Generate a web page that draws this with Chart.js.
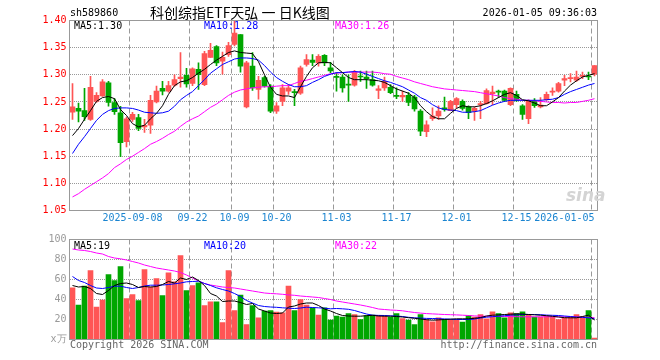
<!DOCTYPE html>
<html>
<head>
<meta charset="utf-8">
<script src="https://cdn.jsdelivr.net/npm/chart.js@4.4.1/dist/chart.umd.min.js"></script>
<style>
body { margin: 0; background: #fff; }
#wrap { position: relative; width: 660px; height: 360px; overflow: hidden; font-family: "DejaVu Sans Mono", monospace; font-size: 10px; }
canvas { position: absolute; left: 0; top: 0; }
.t { position: absolute; white-space: nowrap; line-height: 12px; }
</style>
</head>
<body>
<div id="wrap">
    <canvas id="klineChart" width="660" height="360"></canvas>
    <canvas id="volChart" width="660" height="360"></canvas>

    <div class="t" style="left:70px;top:7px;">sh589860</div>
    <div class="t" style="left:150px;top:4px;line-height:16px;font-family:'Noto Sans CJK SC',sans-serif;font-size:14px;">科创综指ETF天弘 一 日K线图</div>
    <div class="t" style="right:63px;top:7px;">2026-01-05 09:36:03</div>

    <div class="t" style="left:74px;top:20px;color:#000;">MA5:1.30</div>
    <div class="t" style="left:204px;top:20px;color:#0000ff;">MA10:1.28</div>
    <div class="t" style="left:335px;top:20px;color:#ff00ff;">MA30:1.26</div>

    <div class="t" style="left:74px;top:240px;color:#000;">MA5:19</div>
    <div class="t" style="left:204px;top:240px;color:#0000ff;">MA10:20</div>
    <div class="t" style="left:335px;top:240px;color:#ff00ff;">MA30:22</div>

    <div class="t" style="left:566px;top:186px;font-family:'DejaVu Sans',sans-serif;font-size:17px;line-height:18px;font-weight:bold;font-style:italic;color:#d4d4d4;">sina</div>

    <div class="t" style="left:70px;top:339px;color:#666;">Copyright 2026 SINA.COM</div>
    <div class="t" style="right:63px;top:339px;color:#666;">http://finance.sina.com.cn</div>
</div>

<script>
// trading days
const dates = [
    '2025-08-25','2025-08-26','2025-08-27','2025-08-28','2025-08-29',
    '2025-09-01','2025-09-02','2025-09-03','2025-09-04','2025-09-05',
    '2025-09-08','2025-09-09','2025-09-10','2025-09-11','2025-09-12',
    '2025-09-15','2025-09-16','2025-09-17','2025-09-18','2025-09-19',
    '2025-09-22','2025-09-23','2025-09-24','2025-09-25','2025-09-26',
    '2025-09-29','2025-09-30','2025-10-09','2025-10-10','2025-10-13',
    '2025-10-14','2025-10-15','2025-10-16','2025-10-17','2025-10-20',
    '2025-10-21','2025-10-22','2025-10-23','2025-10-24','2025-10-27',
    '2025-10-28','2025-10-29','2025-10-30','2025-10-31','2025-11-03',
    '2025-11-04','2025-11-05','2025-11-06','2025-11-07','2025-11-10',
    '2025-11-11','2025-11-12','2025-11-13','2025-11-14','2025-11-17',
    '2025-11-18','2025-11-19','2025-11-20','2025-11-21','2025-11-24',
    '2025-11-25','2025-11-26','2025-11-27','2025-11-28','2025-12-01',
    '2025-12-02','2025-12-03','2025-12-04','2025-12-05','2025-12-08',
    '2025-12-09','2025-12-10','2025-12-11','2025-12-12','2025-12-15',
    '2025-12-16','2025-12-17','2025-12-18','2025-12-19','2025-12-22',
    '2025-12-23','2025-12-24','2025-12-25','2025-12-26','2025-12-29',
    '2025-12-30','2025-12-31','2026-01-05'
];

const xTickLabels = ['2025-09-08', '09-22', '10-09', '10-20', '11-03', '11-17', '12-01', '12-15', '2026-01-05'];
const priceTicks = [1.05, 1.10, 1.15, 1.20, 1.25, 1.30, 1.35, 1.40];
const volTicks = [0, 20, 40, 60, 80, 100];

const open = [
    1.231,1.238,1.234,1.218,1.251,1.261,1.285,1.249,1.230,1.177,
    1.218,1.221,1.204,1.207,1.250,1.275,1.270,1.281,1.293,1.299,
    1.284,1.310,1.282,1.332,1.352,1.325,1.337,1.356,1.374,1.241,
    1.316,1.273,1.295,1.279,1.233,1.251,1.270,1.269,1.266,1.319,
    1.327,1.322,1.336,1.313,1.297,1.296,1.282,1.281,1.297,1.296,
    1.291,1.271,1.276,1.277,1.262,1.259,1.262,1.259,1.233,1.195,
    1.219,1.224,1.239,1.234,1.245,1.251,1.241,1.233,1.245,1.247,
    1.265,1.270,1.270,1.245,1.264,1.243,1.219,1.251,1.241,1.254,
    1.268,1.270,1.290,1.293,1.290,1.297,1.297,1.301
];
const close = [
    1.241,1.233,1.223,1.277,1.262,1.287,1.249,1.232,1.175,1.219,
    1.227,1.201,1.207,1.253,1.270,1.270,1.280,1.291,1.296,1.283,
    1.311,1.300,1.339,1.345,1.322,1.332,1.354,1.377,1.316,1.322,
    1.276,1.290,1.279,1.233,1.243,1.276,1.276,1.267,1.313,1.328,
    1.323,1.334,1.322,1.307,1.295,1.276,1.281,1.305,1.296,1.293,
    1.281,1.274,1.288,1.267,1.260,1.262,1.249,1.237,1.196,1.208,
    1.224,1.233,1.236,1.251,1.256,1.238,1.230,1.238,1.247,1.271,
    1.268,1.268,1.253,1.275,1.253,1.227,1.251,1.243,1.244,1.264,
    1.270,1.284,1.293,1.294,1.296,1.299,1.296,1.317
];
const high = [
    1.284,1.248,1.275,1.297,1.267,1.291,1.288,1.256,1.242,1.222,
    1.231,1.227,1.218,1.262,1.279,1.288,1.288,1.300,1.341,1.312,
    1.313,1.322,1.343,1.358,1.354,1.342,1.360,1.400,1.374,1.325,
    1.341,1.297,1.297,1.282,1.249,1.282,1.282,1.273,1.316,1.337,
    1.337,1.337,1.337,1.323,1.304,1.300,1.300,1.308,1.307,1.307,
    1.307,1.280,1.296,1.282,1.276,1.270,1.267,1.262,1.236,1.215,
    1.239,1.243,1.259,1.253,1.258,1.254,1.243,1.241,1.251,1.274,
    1.279,1.272,1.272,1.276,1.270,1.245,1.254,1.256,1.258,1.268,
    1.276,1.286,1.299,1.302,1.307,1.305,1.305,1.317
];
const low = [
    1.218,1.213,1.216,1.216,1.249,1.260,1.242,1.227,1.149,1.167,
    1.214,1.197,1.194,1.192,1.248,1.263,1.268,1.279,1.277,1.277,
    1.280,1.273,1.280,1.332,1.317,1.301,1.334,1.353,1.305,1.239,
    1.271,1.255,1.277,1.230,1.229,1.243,1.264,1.243,1.264,1.316,
    1.317,1.316,1.317,1.304,1.270,1.268,1.251,1.279,1.288,1.275,
    1.279,1.256,1.271,1.265,1.256,1.251,1.243,1.233,1.188,1.186,
    1.216,1.218,1.233,1.234,1.239,1.235,1.219,1.216,1.219,1.246,
    1.245,1.258,1.251,1.243,1.251,1.218,1.210,1.240,1.239,1.253,
    1.262,1.268,1.280,1.287,1.288,1.293,1.291,1.298
];

// moving averages as drawn
const ma5 = [
    1.188,1.201,1.218,1.234,1.251,1.258,1.260,1.256,1.236,1.225,
    1.210,1.204,1.207,1.219,1.229,1.243,1.264,1.280,1.287,1.289,
    1.295,1.303,1.310,1.319,1.327,1.334,1.341,1.344,1.341,1.340,
    1.339,1.324,1.300,1.277,1.264,1.261,1.261,1.258,1.278,1.297,
    1.313,1.322,1.323,1.322,1.313,1.304,1.295,1.291,1.291,1.291,
    1.290,1.289,1.286,1.280,1.274,1.270,1.266,1.258,1.243,1.232,
    1.223,1.219,1.219,1.229,1.238,1.243,1.241,1.241,1.243,1.247,
    1.252,1.258,1.264,1.267,1.262,1.254,1.252,1.248,1.243,1.243,
    1.250,1.258,1.270,1.281,1.289,1.296,1.299,1.302
];
const ma10 = [
    1.155,1.172,1.186,1.201,1.216,1.227,1.234,1.238,1.239,1.239,
    1.238,1.235,1.231,1.230,1.229,1.230,1.233,1.242,1.254,1.262,
    1.269,1.280,1.291,1.303,1.311,1.319,1.324,1.329,1.331,1.331,
    1.330,1.327,1.317,1.305,1.295,1.288,1.282,1.278,1.278,1.280,
    1.286,1.291,1.297,1.301,1.304,1.304,1.305,1.306,1.305,1.301,
    1.297,1.293,1.289,1.286,1.282,1.278,1.272,1.266,1.258,1.253,
    1.245,1.239,1.236,1.235,1.234,1.231,1.231,1.232,1.234,1.239,
    1.244,1.248,1.251,1.253,1.253,1.253,1.253,1.253,1.253,1.254,
    1.255,1.258,1.264,1.269,1.273,1.277,1.281,1.284
];
const ma30 = [
    1.075,1.081,1.089,1.096,1.103,1.110,1.118,1.129,1.136,1.144,
    1.150,1.157,1.164,1.172,1.177,1.183,1.190,1.196,1.205,1.213,
    1.219,1.224,1.232,1.240,1.246,1.254,1.262,1.268,1.272,1.274,
    1.276,1.277,1.278,1.278,1.279,1.280,1.280,1.284,1.288,1.290,
    1.293,1.296,1.299,1.302,1.303,1.304,1.305,1.305,1.305,1.305,
    1.305,1.304,1.302,1.301,1.297,1.294,1.291,1.287,1.284,1.281,
    1.278,1.276,1.274,1.273,1.272,1.271,1.270,1.269,1.267,1.265,
    1.263,1.261,1.258,1.256,1.255,1.253,1.253,1.252,1.251,1.250,
    1.249,1.249,1.248,1.249,1.249,1.251,1.253,1.256
];

// volume (x万)
const volume = [
    51.7,34.3,53.3,69,32.3,39.3,65,59,73,41,
    45,39,70,52.3,61,44,66.7,57.7,84,49,
    54,56.7,34,37.7,37.7,17,69,29,44.3,15,
    34,21.7,28.3,29,27.3,26.7,53.3,29,40,34.3,
    31.7,24.3,31.7,19.3,23.3,22.3,26,25,20,24,
    24.3,24,24,22.3,26,21,19.3,15,25,19.3,
    17.7,21.7,20,19.3,19.3,17.3,24,22.3,25,20.7,
    27.7,26,21.7,26.7,26,27.7,25,22.3,22.3,23.3,
    22.7,20,21.7,22.7,25,22.7,29,1.5
];
const volMa5 = [
    54,52.5,53,51,46,45,49,54,56,56.5,
    55,52,53,52.5,53,55,58,56.5,61.5,60,
    62.5,59,54,46,43.5,38,38.5,38.5,37,35,
    36,30.5,28.5,26.5,26,26.5,32.5,33.5,35.5,36.5,
    36.5,34,30.5,28.5,26,24,23.5,23.3,23.3,23.8,
    24.2,23.5,23.3,23.3,23,22.5,21.8,21.2,20.5,19.8,
    19.3,19.6,20,20.3,20.7,20.7,20.7,21.2,22,23.5,
    24.3,24.6,25,25.3,25.6,25.5,25,24.7,24.3,23.8,
    23.2,22.5,21.8,21.7,21.7,23,24.3,19.5
];
const volMa10 = [
    63,59,57,54,51.5,51,52,53.3,53.3,52,
    51,52,53.5,54.3,54.3,54.5,55,55.7,56.5,57.7,
    58,58.3,56,54,51.7,50,48.5,46,43,39,
    36.5,34,33,32.5,32.2,31.7,31.3,31,31.5,32.3,
    32,31.7,31.3,30.7,31,30.7,30.2,29,27.2,25.5,
    24.3,24.1,24,23.7,23.4,23,22.2,21.7,21.4,21.1,
    21,20.8,20.6,20.3,20,20,20,20.5,21.5,22.3,
    22.8,23.3,23.8,24.3,24.7,25,25,25,24.8,24.4,
    24.2,24,23.5,23,22.5,22.1,21.7,20.8
];
const volMa30 = [
    90.5,89.5,89,88,86.5,85.5,83,81.5,80.7,79.5,
    78,76.5,74.5,73,71.5,70.5,69.5,68.5,67,64.5,
    61.5,58.5,56,54.5,53.5,52.5,52,51.5,50.5,49.5,
    48.5,47.5,46.5,46,45.7,45.2,44.6,44.2,43.5,43,
    42.5,42,41,40,38.5,37.5,36.5,35.5,34.5,33.3,
    32,30.5,30,29.5,29.2,28.7,27.8,27,26.4,25.9,
    25.6,25.3,25,24.8,24.6,24.3,24,23.6,23.3,23.3,
    23.2,23.1,23,22.9,22.8,22.7,22.7,22.7,22.7,22.7,
    22.7,22.7,22.7,22.7,22.6,22.4,22.2,21.8
];

const UP = '#ff5555';
const DOWN = '#00a600';
const GRID = '#999999';
const monoFont = { family: 'DejaVu Sans Mono', size: 10 };

const candleColors = open.map((o, i) => close[i] >= o ? UP : DOWN);
const tickText = dates.map(d => xTickLabels.find(t => d.endsWith(t)) || '');
const isTick = i => !!tickText[i];

// panel frame
const framePlugin = {
    id: 'frame',
    afterDraw(chart) {
        const a = chart.chartArea;
        const ctx = chart.ctx;
        ctx.save();
        ctx.strokeStyle = '#999';
        ctx.lineWidth = 1;
        ctx.strokeRect(a.left, a.top, a.right - a.left, a.bottom - a.top);
        ctx.restore();
    }
};

function maLine(data, color) {
    return {
        type: 'line',
        data: data,
        borderColor: color,
        borderWidth: 1,
        pointRadius: 0,
        tension: 0,
        fill: false,
        order: 0
    };
}

function xAxis(showLabels, height) {
    return {
        offset: true,
        afterFit(s) { s.height = height; },
        ticks: {
            display: showLabels,
            autoSkip: false,
            maxRotation: 0,
            minRotation: 0,
            align: 'inner',
            padding: 2,
            color: '#1a84d0',
            font: monoFont,
            callback: (v, i) => tickText[i]
        },
        grid: {
            offset: true,
            drawTicks: false,
            color: ctx => isTick(ctx.index) ? GRID : 'rgba(0,0,0,0)'
        },
        border: { display: false, dash: [5, 3] }
    };
}

// K line
new Chart(document.getElementById('klineChart'), {
    type: 'bar',
    data: {
        labels: dates,
        datasets: [
            {
                data: low.map((l, i) => [l, high[i]]),
                backgroundColor: candleColors,
                barThickness: 1,
                grouped: false,
                order: 3
            },
            {
                data: open.map((o, i) => [o, close[i]]),
                backgroundColor: candleColors,
                barThickness: 5,
                minBarLength: 1,
                grouped: false,
                order: 2
            },
            maLine(ma5, '#000000'),
            maLine(ma10, '#0000ff'),
            maLine(ma30, '#ff00ff')
        ]
    },
    options: {
        responsive: false,
        animation: false,
        events: [],
        layout: { padding: { left: 0, right: 62.5, top: 20.5, bottom: 0 } },
        scales: {
            x: xAxis(true, 149.5),
            y: {
                min: priceTicks[0],
                max: priceTicks[priceTicks.length - 1],
                afterFit(s) { s.width = 69.5; },
                afterBuildTicks(s) { s.ticks = priceTicks.map(v => ({ value: v })); },
                ticks: {
                    color: '#ff0000',
                    font: monoFont,
                    padding: 3,
                    callback: v => v.toFixed(2)
                },
                grid: { color: GRID, drawTicks: false },
                border: { display: false, dash: [1, 1] }
            }
        },
        plugins: {
            legend: { display: false },
            tooltip: { enabled: false }
        }
    },
    plugins: [framePlugin]
});

// volume
new Chart(document.getElementById('volChart'), {
    type: 'bar',
    data: {
        labels: dates,
        datasets: [
            {
                data: volume,
                backgroundColor: candleColors,
                barThickness: 5,
                grouped: false,
                order: 2
            },
            maLine(volMa5, '#000000'),
            maLine(volMa10, '#0000ff'),
            maLine(volMa30, '#ff00ff')
        ]
    },
    options: {
        responsive: false,
        animation: false,
        events: [],
        layout: { padding: { left: 0, right: 62.5, top: 239.5, bottom: 0 } },
        scales: {
            x: xAxis(false, 20.5),
            y: {
                min: volTicks[0],
                max: volTicks[volTicks.length - 1],
                afterFit(s) { s.width = 69.5; },
                afterBuildTicks(s) { s.ticks = volTicks.map(v => ({ value: v })); },
                ticks: {
                    color: '#999',
                    font: monoFont,
                    padding: 3,
                    callback: v => v === 0 ? 'x万' : String(v)
                },
                grid: { color: GRID, drawTicks: false },
                border: { display: false, dash: [1, 1] }
            }
        },
        plugins: {
            legend: { display: false },
            tooltip: { enabled: false }
        }
    },
    plugins: [framePlugin]
});
</script>
</body>
</html>
